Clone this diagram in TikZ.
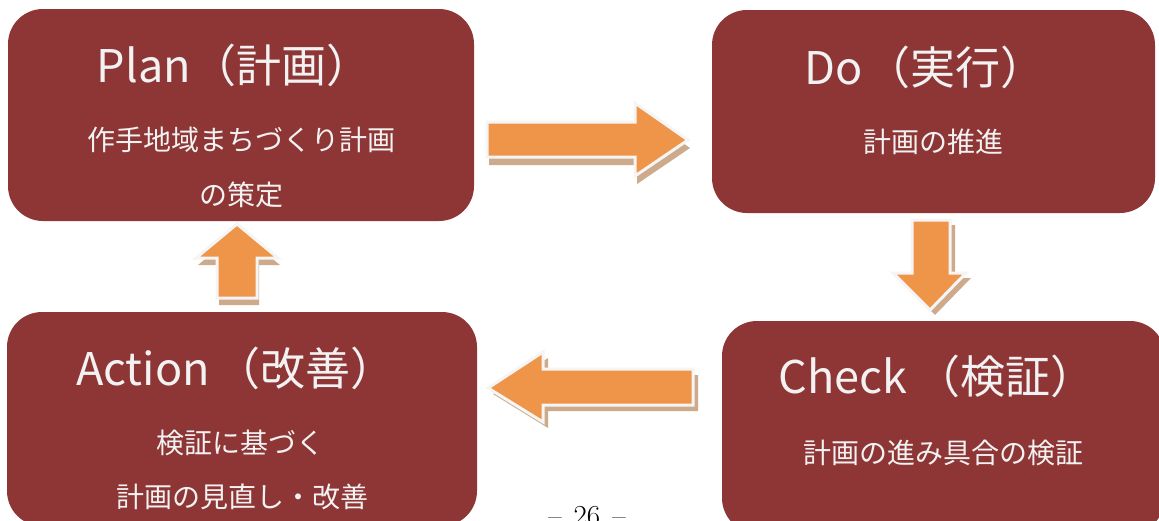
\documentclass[tikz,border=0pt]{standalone}
\usepackage{fontspec}
\newfontfamily\cjk{Noto Sans CJK JP}
\definecolor{boxred}{HTML}{8E3535}
\definecolor{arroworange}{HTML}{EE9549}
\definecolor{arrowshadow}{HTML}{C9A17F}
\tikzset{
  box/.style={fill=boxred, draw=none, rounded corners=35pt, inner sep=0pt},
  title/.style={text=white!95!black, font=\cjk\fontsize{45}{50}\selectfont, inner sep=0pt},
  sub/.style={text=white!95!black, font=\cjk\fontsize{28}{32}\selectfont, inner sep=0pt},
  blockarrow/.style={fill=arroworange, draw=white!96!black, line width=3pt, line join=miter},
  blockshadow/.style={fill=arrowshadow, draw=none, opacity=0.9}
}
\begin{document}
\begin{tikzpicture}[x=1pt,y=-1pt]
\useasboundingbox (0,0) rectangle (1159,520);
% boxes
\node[box, minimum width=466pt, minimum height=212pt] (plan) at (241,115) {};
\node[box, minimum width=443pt, minimum height=203pt] (do) at (933.5,111.5) {};
\node[box, minimum width=443pt, minimum height=212pt] (check) at (943.5,427) {};
\node[box, minimum width=470pt, minimum height=214pt] (action) at (242,419) {};
% texts
\node[title] (plant) at (234,65) {Plan（計画）};
\node[sub] (plans1) at (241,140) {作手地域まちづくり計画};
\node[sub] (plans2) at (241,195) {の策定};
\node[title] (dot) at (925,67) {Do\hspace{3pt}（実行）};
\node[sub] (dos1) at (933,142) {計画の推進};
\node[title] (checkt) at (937,376) {Check\hspace{8pt}（検証）};
\node[sub] (checks1) at (943,453) {計画の進み具合の検証};
\node[title] (actiont) at (236,368) {Action\hspace{6pt}（改善）};
\node[sub] (actions1) at (240,443) {検証に基づく};
\node[sub] (actions2) at (242,497) {計画の見直し・改善};
% arrows: right (plan -> do)
\fill[blockshadow, shift={(2,8)}] (487,122) -- (635,122) -- (635,103) -- (688,140) -- (635,176) -- (635,157) -- (487,157) -- cycle;
\draw[blockarrow] (487,122) -- (635,122) -- (635,103) -- (688,140) -- (635,176) -- (635,157) -- (487,157) -- cycle;
% down (do -> check)
\fill[blockshadow, shift={(5,5)}] (912,220) -- (950,220) -- (950,273) -- (966,273) -- (930,310) -- (893,273) -- (912,273) -- cycle;
\draw[blockarrow] (912,220) -- (950,220) -- (950,273) -- (966,273) -- (930,310) -- (893,273) -- (912,273) -- cycle;
% left (check -> action)
\fill[blockshadow, shift={(5,6)}] (488,388) -- (543,352) -- (543,369) -- (693,369) -- (693,405) -- (543,405) -- (543,422) -- cycle;
\draw[blockarrow] (488,388) -- (543,352) -- (543,369) -- (693,369) -- (693,405) -- (543,405) -- (543,422) -- cycle;
% up (action -> plan)
\fill[blockshadow, shift={(2,7)}] (237,224) -- (278,258) -- (257,258) -- (257,298) -- (217,298) -- (217,258) -- (196,258) -- cycle;
\draw[blockarrow] (237,224) -- (278,258) -- (257,258) -- (257,298) -- (217,298) -- (217,258) -- (196,258) -- cycle;
% page number
\node[anchor=north, font=\fontsize{29}{30}\selectfont, inner sep=0pt] (pagenum) at (587,506) {–\hspace{12pt}26\hspace{12pt}–};
\end{tikzpicture}
\end{document}
